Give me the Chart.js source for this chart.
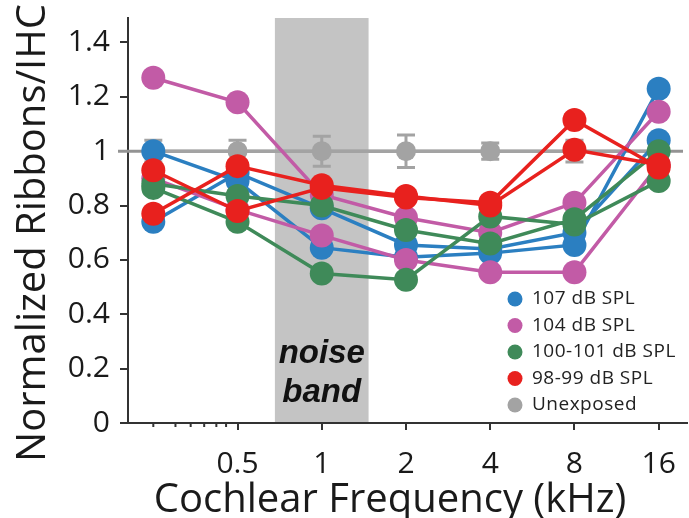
<!DOCTYPE html>
<html>
<head>
<meta charset="utf-8">
<script src="https://cdn.jsdelivr.net/npm/chart.js@4.4.1/dist/chart.umd.min.js"></script>
<style>
  body { margin: 0; background: #fff; }
  canvas { display: block; }
</style>
</head>
<body>
<canvas id="ribbons" width="689" height="518"></canvas>
<script>
// cochlear frequency (kHz) of each sample point
var freqs = [0.25, 0.5, 1, 2, 4, 8, 16];
var xTicks = [0.5, 1, 2, 4, 8, 16];
var xTickLabels = ["0.5", "1", "2", "4", "8", "16"];
var xMinorTicks = [0.25, 0.3, 0.34, 0.38, 0.42, 0.455];
var yTicks = [0, 0.2, 0.4, 0.6, 0.8, 1, 1.2, 1.4];
var yTickLabels = ["0", "0.2", "0.4", "0.6", "0.8", "1", "1.2", "1.4"];
var noiseBand = [0.68, 1.47];

// normalized ribbons / IHC, one row per line of each group
var spl107 = [
    [1.0, 0.89, 0.645, 0.61, 0.625, 0.655, 1.23],
    [0.74, 0.92, 0.79, 0.655, 0.64, 0.70, 1.04]
];
var spl104 = [
    [1.27, 1.18, 0.84, 0.755, 0.70, 0.81, 1.145],
    [0.90, 0.785, 0.69, 0.60, 0.555, 0.555, 0.95]
];
var spl100 = [
    [0.88, 0.835, 0.80, 0.71, 0.66, 0.75, 1.0],
    [0.865, 0.74, 0.55, 0.527, 0.76, 0.73, 0.89]
];
var spl98 = [
    [0.93, 0.78, 0.865, 0.83, 0.81, 1.115, 0.94],
    [0.77, 0.945, 0.875, 0.835, 0.80, 1.005, 0.95]
];
var unexposed = [1.0, 1.0, 1.0, 1.0, 1.0, 1.0, 1.0];
var unexposedErr = [0.04, 0.04, 0.055, 0.06, 0.03, 0.04, 0.04];

var legendLabels = ["107 dB SPL", "104 dB SPL", "100-101 dB SPL", "98-99 dB SPL", "Unexposed"];
var legendColors = ["#2b7fc1", "#c25ba6", "#3f8a59", "#e8211e", "#a3a3a3"];

var font = '"Open Sans", "DejaVu Sans", sans-serif';

function line(values, color, order) {
    return {
        data: freqs.map(function (f, i) { return { x: f, y: values[i] }; }),
        borderColor: color,
        backgroundColor: color,
        borderWidth: 3.5,
        pointRadius: 12,
        pointBorderWidth: 0,
        order: order
    };
}

var datasets = [];
spl98.forEach(function (s) { datasets.push(line(s, legendColors[3], 1)); });
spl100.forEach(function (s) { datasets.push(line(s, legendColors[2], 2)); });
spl104.forEach(function (s) { datasets.push(line(s, legendColors[1], 3)); });
spl107.forEach(function (s) { datasets.push(line(s, legendColors[0], 4)); });
var grey = line(unexposed, legendColors[4], 5);
grey.pointRadius = 10;
datasets.push(grey);

var extras = {
    id: "extras",
    beforeDatasetsDraw: function (chart) {
        var ctx = chart.ctx, a = chart.chartArea, x = chart.scales.x, y = chart.scales.y;
        ctx.save();
        var x0 = x.getPixelForValue(noiseBand[0]), x1 = x.getPixelForValue(noiseBand[1]);
        ctx.fillStyle = "#c4c4c4";
        ctx.fillRect(x0, a.top, x1 - x0, a.bottom - a.top - 1);

        ctx.fillStyle = "#111";
        ctx.font = 'bold italic 33px "Liberation Sans", Arial, sans-serif';
        ctx.textAlign = "center";
        ctx.textBaseline = "middle";
        ctx.fillText("noise", (x0 + x1) / 2, y.getPixelForValue(0.255));
        ctx.fillText("band", (x0 + x1) / 2, y.getPixelForValue(0.11));

        // reference line at 1
        var y1 = y.getPixelForValue(1);
        ctx.strokeStyle = "#939393";
        ctx.lineWidth = 3;
        ctx.beginPath();
        ctx.moveTo(a.left - 10, y1);
        ctx.lineTo(a.right - 4, y1);
        ctx.stroke();

        // error bars of unexposed
        ctx.strokeStyle = legendColors[4];
        ctx.lineWidth = 3;
        freqs.forEach(function (f, i) {
            var px = x.getPixelForValue(f);
            var hi = y.getPixelForValue(unexposed[i] + unexposedErr[i]);
            var lo = y.getPixelForValue(unexposed[i] - unexposedErr[i]);
            ctx.beginPath();
            ctx.moveTo(px, hi); ctx.lineTo(px, lo);
            ctx.moveTo(px - 9, hi); ctx.lineTo(px + 9, hi);
            ctx.moveTo(px - 9, lo); ctx.lineTo(px + 9, lo);
            ctx.stroke();
        });
        ctx.restore();
    },
    afterDraw: function (chart) {
        var ctx = chart.ctx, a = chart.chartArea, x = chart.scales.x;
        ctx.save();
        // minor log ticks
        ctx.strokeStyle = "#333";
        ctx.lineWidth = 2;
        xMinorTicks.forEach(function (v) {
            var px = x.getPixelForValue(v);
            ctx.beginPath();
            ctx.moveTo(px, a.bottom);
            ctx.lineTo(px, a.bottom + 4);
            ctx.stroke();
        });

        // legend
        ctx.textAlign = "left";
        ctx.textBaseline = "middle";
        ctx.font = "19px " + font;
        ctx.letterSpacing = "0.5px";
        legendLabels.forEach(function (lab, i) {
            var ly = a.bottom - 124 + i * 26.5;
            ctx.fillStyle = legendColors[i];
            ctx.beginPath();
            ctx.arc(a.right - 172, ly, 7.5, 0, Math.PI * 2);
            ctx.fill();
            ctx.fillStyle = "#222";
            ctx.fillText(lab, a.right - 155, ly);
        });
        ctx.letterSpacing = "0px";

        // axis titles
        ctx.fillStyle = "#1a1a1a";
        ctx.font = "40px " + font;
        ctx.textAlign = "center";
        ctx.textBaseline = "alphabetic";
        ctx.fillText("Cochlear Frequency (kHz)", 390, 512);
        ctx.translate(45, 233);
        ctx.rotate(-Math.PI / 2);
        ctx.fillText("Normalized Ribbons/IHC", 0, 0);
        ctx.restore();
    }
};

var myChart = new Chart(document.getElementById("ribbons").getContext("2d"), {
    type: "line",
    data: { datasets: datasets },
    plugins: [extras],
    options: {
        responsive: false,
        animation: false,
        layout: { autoPadding: false, padding: { top: 18, right: 2, left: 0, bottom: 0 } },
        plugins: { legend: { display: false }, tooltip: { enabled: false } },
        scales: {
            x: {
                type: "logarithmic",
                min: 0.203,
                max: 20.2,
                afterBuildTicks: function (s) { s.ticks = xTicks.map(function (v) { return { value: v }; }); },
                afterFit: function (s) { s.height = 95; s.paddingLeft = 0; s.paddingRight = 0; },
                ticks: {
                    autoSkip: false,
                    maxRotation: 0,
                    padding: 16,
                    color: "#1a1a1a",
                    font: { family: font, size: 30 },
                    callback: function (v) { return xTickLabels[xTicks.indexOf(v)]; }
                },
                grid: { drawOnChartArea: false, tickLength: 7, color: "#333", lineWidth: 2 },
                border: { color: "#333", width: 2 }
            },
            y: {
                min: 0,
                max: 1.49,
                afterBuildTicks: function (s) { s.ticks = yTicks.map(function (v) { return { value: v }; }); },
                afterFit: function (s) { s.width = 128; s.paddingTop = 0; s.paddingBottom = 0; },
                ticks: {
                    padding: 10,
                    color: "#1a1a1a",
                    font: { family: font, size: 30 },
                    callback: function (v) { return yTickLabels[yTicks.indexOf(v)]; }
                },
                grid: { drawOnChartArea: false, tickLength: 8, color: "#333", lineWidth: 2 },
                border: { color: "#333", width: 2 }
            }
        }
    }
});
</script>
</body>
</html>
